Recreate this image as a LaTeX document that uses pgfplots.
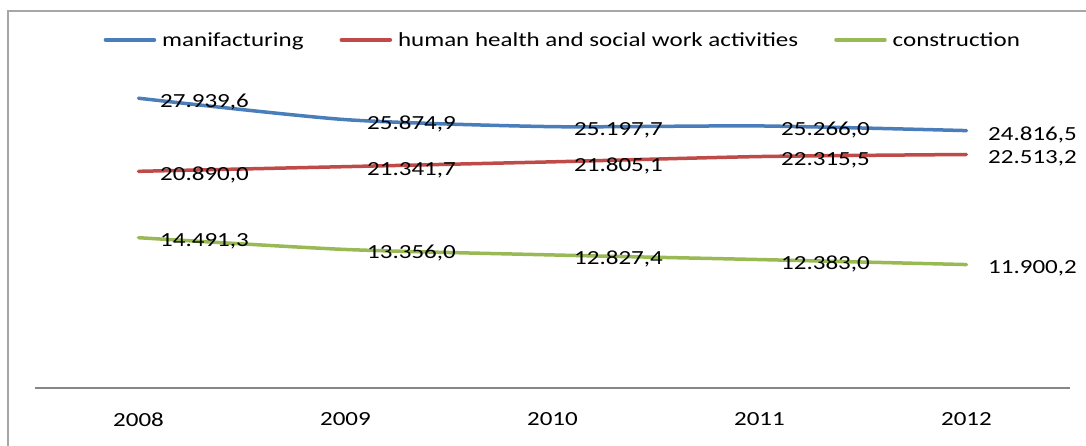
\documentclass[border=0pt]{standalone}
\usepackage{pgfplots}
\pgfplotsset{compat=1.18}
\usepackage{pgfplotstable}
\usepackage{fontspec}
\setmainfont{Carlito}[FakeStretch=1.25]

\definecolor{xlblue}{HTML}{4A7EBB}
\definecolor{xlred}{HTML}{BE4B48}
\definecolor{xlgreen}{HTML}{98B954}
\definecolor{framegray}{HTML}{A6A6A6}
\definecolor{axisgray}{HTML}{868686}

% x: 0=2008 ... 4=2012
\pgfplotstableread{
x y lab
0 27939.6 27.939,6
1 25874.9 25.874,9
2 25197.7 25.197,7
3 25266.0 25.266,0
4 24816.5 24.816,5
}\manuf
\pgfplotstableread{
x y lab
0 20890.0 20.890,0
1 21341.7 21.341,7
2 21805.1 21.805,1
3 22315.5 22.315,5
4 22513.2 22.513,2
}\health
\pgfplotstableread{
x y lab
0 14491.3 14.491,3
1 13356.0 13.356,0
2 12827.4 12.827,4
3 12383.0 12.383,0
4 11900.2 11.900,2
}\constr

\begin{document}
\begin{tikzpicture}[x=1bp,y=1bp]
\useasboundingbox (0,0) rectangle (1086,446);
\draw[framegray, line width=1.2bp] (8,-20) |- (1100,435);
\begin{axis}[
  at={(35bp,58bp)}, anchor=south west,
  width=1035bp, height=363bp, scale only axis,
  xmin=-0.5, xmax=4.5, ymin=0, ymax=35000,
  hide y axis,
  axis x line*=bottom,
  x axis line style={axisgray, line width=1.5bp, -},
  xtick={0,1,2,3,4},
  xticklabels={2008,2009,2010,2011,2012},
  major tick length=0pt,
  xticklabel style={font=\fontsize{20bp}{23bp}\selectfont, anchor=north, yshift=-21bp},
  /pgf/number format/assume math mode=true,
  legend columns=3,
  legend style={draw=none, fill=none, at={(0.510,0.959)}, anchor=center,
    font=\fontsize{20bp}{23bp}\selectfont,
    /tikz/every odd column/.append style={column sep=4bp},
    /tikz/every even column/.append style={column sep=34bp}},
  legend image code/.code={\draw[#1, line width=3.5bp] (0bp,0bp) -- (49bp,0bp);},
  nodes near coords={\pgfplotspointmeta},
  point meta=explicit symbolic,
  every node near coord/.append style={anchor=west, xshift=20bp, yshift=-4bp,
    inner sep=0pt, text=black, font=\fontsize{20bp}{23bp}\selectfont},
  every axis plot/.append style={line width=3.5bp, smooth, tension=0.4, no markers, line cap=round},
]
\addplot[xlblue] table[x=x, y=y, meta=lab] {\manuf};
\addlegendentry{manifacturing}
\addplot[xlred] table[x=x, y=y, meta=lab] {\health};
\addlegendentry{human health and social work activities}
\addplot[xlgreen] table[x=x, y=y, meta=lab] {\constr};
\addlegendentry{construction}
\end{axis}
\end{tikzpicture}
\end{document}
